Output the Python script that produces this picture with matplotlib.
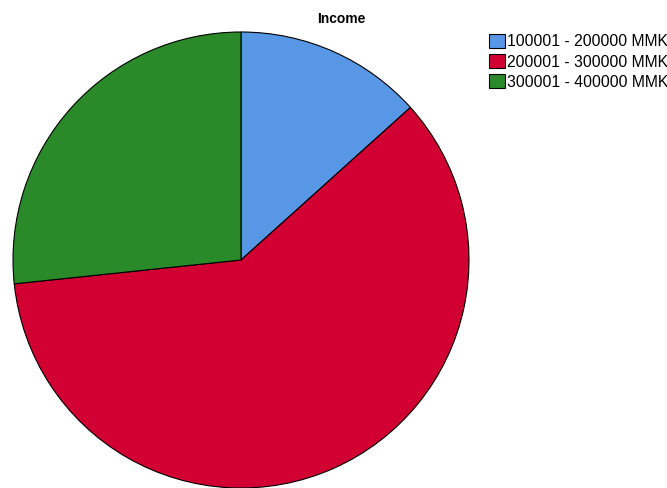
import matplotlib.pyplot as plt

categories = ["100001 - 200000 MMK", "200001 - 300000 MMK", "300001 - 400000 MMK"]
counts = [2, 9, 4]
colors = ["#5797e6", "#d20032", "#2a8a2a"]

fig = plt.figure(figsize=(6.67, 4.88), dpi=100)
ax = fig.add_axes([13 / 667, 0, 456 / 667, 456 / 488])

# slices run clockwise from twelve o'clock
wedges, _ = ax.pie(counts, colors=colors, startangle=90, counterclock=False,
                   wedgeprops=dict(edgecolor="black", linewidth=0.8))
ax.set_xlim(-1, 1)
ax.set_ylim(-1, 1)
ax.set_aspect("equal")
ax.axis("off")

fig.text(341 / 667, 1 - 19 / 488, "Income", ha="center", va="center",
         fontsize=10, fontweight="bold", family="Liberation Sans")

fig.legend(wedges, categories, loc="upper left",
           bbox_to_anchor=(489 / 667, 1 - 34 / 488), frameon=False,
           prop=dict(family="Liberation Sans", size=11.3),
           handlelength=1.0, handleheight=1.0, handletextpad=0.15,
           labelspacing=0.3, borderpad=0, borderaxespad=0)

fig.savefig("out.png", dpi=100)
